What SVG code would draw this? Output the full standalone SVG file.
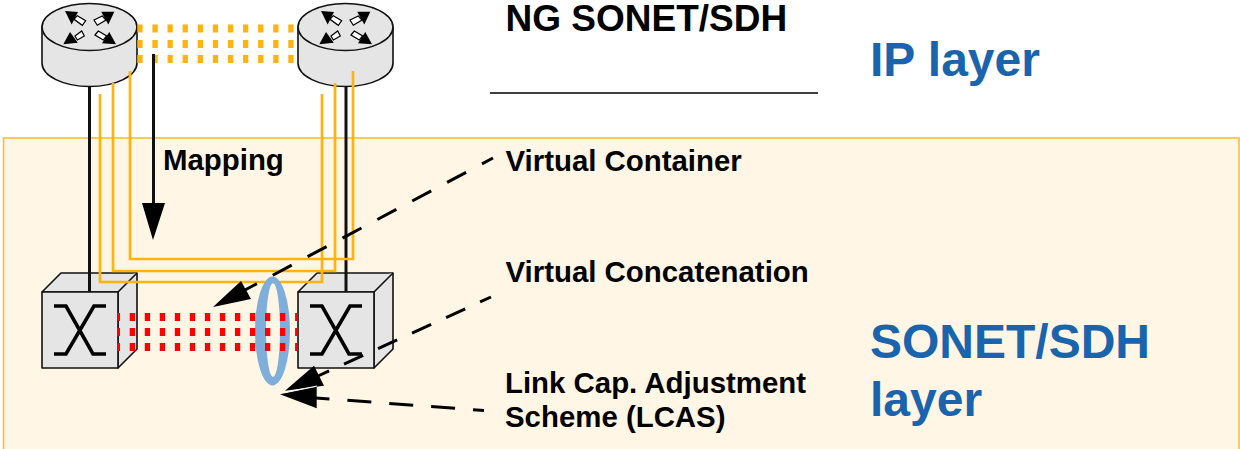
<svg xmlns="http://www.w3.org/2000/svg" width="1240" height="449" viewBox="0 0 1240 449">
<style>
text{font-family:"Liberation Sans",Arial,sans-serif;font-weight:bold}
.lab{font-size:29.4px;fill:#000}
.ttl{font-size:37px;fill:#000}
.big{font-size:48px;fill:#1A64AE}
.box{fill:#E5E5E5;stroke:#111;stroke-width:1.6;stroke-linejoin:round}
.blk{fill:none;stroke:#111;stroke-width:3}
.org{fill:none;stroke:#FFB310;stroke-width:2.7}
.odot{fill:none;stroke:#FFB310;stroke-width:8;stroke-dasharray:5.3 9.8}
.rdot{fill:none;stroke:#FF0000;stroke-width:8;stroke-dasharray:5.3 9.73;stroke-dashoffset:2.6}
.dash{fill:none;stroke:#000;stroke-width:3}
.x{fill:none;stroke:#000;stroke-width:3.6}
.tail{fill:#fff;stroke:#000;stroke-width:1.2}
</style>
<defs>
<g id="router">
<path class="box" d="M0,27V63A47.5,23.5 0 0 0 95,63V27Z"/>
<ellipse class="box" cx="47.5" cy="27" rx="47.5" ry="23.5"/>
<polygon class="tail" points="35.3,15.7 43.7,20.7 40.3,25.3 32,19.3"/>
<polygon points="23,11 36,12 29.7,24.5"/>
<polygon class="tail" points="52,20 60.3,16 64,20 55.3,25.3"/>
<polygon points="72.3,11.7 59.2,11.7 66.3,24.5"/>
<polygon class="tail" points="33,36 39.7,31 42.3,36 35.3,40"/>
<polygon points="21.3,44.3 35.8,42.7 28,32"/>
<polygon class="tail" points="53,35 56.3,31 64.7,36 61.3,40"/>
<polygon points="74,44.3 60,43.3 67.3,32"/>
</g>
<g id="oxc">
<path class="box" d="M0,19L19,0H95V76L76,95V19Z"/>
<path class="box" d="M0,19H76L95,0"/>
<rect class="box" x="0" y="19" width="76" height="76"/>
<path class="x" d="M12,33H24L51,81H64M64,33H52L24,81H12"/>
</g>
</defs>
<rect id="bg-layer" x="3.5" y="138" width="1235.5" height="320" fill="#FFF6E6" stroke="#FFBC3C" stroke-width="1.6"/>
<g id="router1"><use href="#router" x="42"/></g>
<g id="router2"><use href="#router" x="298"/></g>
<g id="oxc1"><use href="#oxc" x="42" y="273"/></g>
<g id="oxc2"><use href="#oxc" x="298" y="273"/></g>
<g id="connectors">
<path class="odot" d="M137.3,28.5H295"/><path class="odot" d="M137.3,44H295"/><path class="odot" d="M137.3,59H295"/>
<path class="blk" d="M89.5,87V292"/><path class="blk" d="M346,87V292"/>
<path class="org" d="M100,94V282H322V94"/><path class="org" d="M113,83V271H335V83"/><path class="org" d="M130,71V259H353V71"/>
<path class="blk" d="M153.5,54V205"/><polygon points="153,240 142,203 165,203" fill="#000"/>
<path d="M255,331a17.5,54.5 0 1 0 35,0a17.5,54.5 0 1 0 -35,0ZM266,330a7,47 0 1 1 14,0a7,47 0 1 1 -14,0Z" fill="#7FAEDB" fill-rule="evenodd"/>
<path class="rdot" d="M117.3,317H298"/><path class="rdot" d="M117.3,332H298"/><path class="rdot" d="M117.3,347H298"/>
<path class="dash" stroke-dasharray="21.5 18" stroke-dashoffset="9" d="M493,158L245,290"/><polygon points="213,307 241,281 251,299" fill="#000"/>
<path class="dash" stroke-dasharray="21 16.4" stroke-dashoffset="9" d="M491,297L318,376"/><polygon points="285,390.7 314,365.7 324,385.7" fill="#000"/>
<path class="dash" stroke-dasharray="24 18" stroke-dashoffset="13" d="M484,410.5L316,398"/><polygon points="280,394.3 316.7,386.7 316.7,408.3" fill="#000"/>
<path d="M285,392.3L317,386" stroke="#fff" stroke-width="1" fill="none"/>
</g>
<g id="labels">
<text class="ttl" x="505.5" y="31">NG SONET/SDH</text>
<text class="big" x="870" y="76">IP layer</text>
<text class="lab" x="163" y="170">Mapping</text>
<text class="lab" x="505.5" y="171">Virtual Container</text>
<text class="lab" x="505.5" y="282">Virtual Concatenation</text>
<text class="lab" x="505" y="393">Link Cap. Adjustment</text>
<text class="lab" x="505" y="427">Scheme (LCAS)</text>
<text class="big" x="870" y="358">SONET/SDH</text>
<text class="big" x="870" y="416">layer</text>
</g>
<path id="rule" d="M490,93H818" stroke="#000" stroke-width="1.3" fill="none"/>
</svg>
